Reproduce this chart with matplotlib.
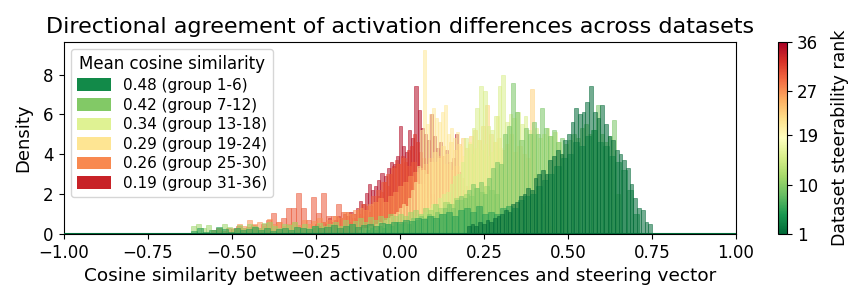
import numpy as np
import matplotlib
matplotlib.use("Agg")
import matplotlib.pyplot as plt
from matplotlib.colors import Normalize
from matplotlib.cm import ScalarMappable
from matplotlib.patches import Patch

# ---------------- data ----------------
# representative datasets: steerability rank, first bin edge, bin width, density per bin
d01_rank, d01_start, d01_width = 1, 0.20, 0.011
d01_heights = [0.4, 0.5, 0.4, 0.6, 0.5, 0.7, 0.6, 0.8, 0.9, 1.0,
               1.2, 1.1, 1.5, 1.6, 1.9, 2.0, 2.3, 2.2, 2.8, 3.0,
               3.2, 3.0, 3.7, 3.9, 4.2, 4.0, 4.7, 5.0, 5.6, 6.3,
               6.0, 6.1, 6.6, 7.45, 6.1, 5.8, 6.45, 5.5, 4.9, 4.7,
               4.2, 4.0, 3.7, 3.3, 2.5, 1.8, 1.3, 1.2, 0.6, 0.5]

d05_rank, d05_start, d05_width = 5, -0.62, 0.018
d05_heights = [0.15, 0.3, 0.1, 0.2, 0.35, 0.25, 0.1, 0.3, 0.2, 0.25, 0.35, 0.2, 0.3, 0.15, 0.25, 0.3, 0.2, 0.35,
               0.3, 0.25, 0.4, 0.3, 0.35, 0.45, 0.3, 0.4, 0.5, 0.35, 0.45, 0.5, 0.4, 0.55, 0.5, 0.6,
               0.6, 0.7, 0.65, 0.8, 0.75, 0.9, 0.8, 1.0, 1.1, 0.9, 1.2, 1.3, 1.1, 1.4,
               1.0, 1.1, 1.0, 1.3, 1.4, 1.3, 1.7, 1.9, 2.0, 2.4, 2.7, 3.0, 3.4, 3.8, 4.0, 4.6,
               4.4, 4.9, 5.2, 4.6, 4.4, 3.9, 3.6, 3.2, 2.2, 1.0]

d09_rank, d09_start, d09_width = 9, -0.10, 0.012
d09_heights = [0.2, 0.3, 0.2, 0.4, 0.3, 0.5, 0.4, 0.6, 0.5,
               0.6, 0.5, 0.8, 0.7, 0.9, 0.8, 1.0, 0.9,
               1.1, 1.0, 1.3, 1.5, 1.3, 1.7, 1.9, 1.8, 2.2,
               2.5, 2.3, 2.6, 2.0, 2.8, 3.3, 3.6, 3.5,
               5.0, 5.4, 7.6, 6.1, 4.7, 5.3, 5.0, 5.6,
               5.0, 6.3, 5.3, 4.9, 5.2, 4.6, 4.8, 4.5,
               4.7, 5.0, 4.8, 5.3, 5.5, 5.0, 5.2, 6.45, 5.0, 4.6, 4.9, 5.7, 2.0]

d11_rank, d11_start, d11_width = 11, -0.62, 0.015
d11_heights = [0.4, 0.5, 0.3, 0.45, 0.2, 0.3, 0.5, 0.35, 0.25, 0.45, 0.3, 0.5, 0.4, 0.3, 0.55, 0.6, 0.4, 0.3, 0.5, 0.45, 0.6,
               0.3, 0.5, 0.3, 0.4, 0.55, 0.4, 0.5, 0.6, 0.4, 0.7, 0.5, 0.65, 0.8, 0.6, 0.85, 0.7, 0.9, 0.8, 1.0, 0.9,
               1.0, 0.9, 1.1, 1.2, 1.0, 1.3, 1.2, 1.5, 1.3, 1.6, 1.5, 1.8, 1.7, 2.0, 1.9, 2.3, 2.1, 2.4, 2.2, 2.0]

d15_rank, d15_start, d15_width = 15, -0.05, 0.011
d15_heights = [0.2, 0.3, 0.3, 0.4, 0.5, 0.4, 0.6, 0.7, 0.8, 0.9,
               1.0, 1.1, 1.3, 1.5, 1.4, 1.8, 2.0, 2.1, 2.5, 2.9,
               3.0, 3.6, 4.8, 4.5, 5.3, 6.3, 7.45, 7.2, 5.4, 5.2,
               5.9, 7.45, 8.0, 5.6, 6.0, 5.8, 6.1, 5.5, 5.9, 5.2,
               5.0, 5.3, 4.8, 5.0, 5.3, 4.9, 5.1, 4.6, 4.0, 3.2]

d21_rank, d21_start, d21_width = 21, -0.12, 0.009
d21_heights = [0.2, 0.3, 0.3, 0.4, 0.3, 0.5, 0.6, 0.5, 0.7, 0.8,
               0.9, 1.0, 1.1, 1.3, 1.5, 1.4, 1.8, 2.2, 2.6, 3.4,
               5.2, 9.23, 5.5, 6.0, 6.3, 5.8, 5.6, 6.1, 6.45, 5.0,
               5.3, 4.8, 5.1, 4.4, 3.9, 4.2, 4.6, 4.0, 4.3, 4.7,
               4.2, 4.5, 3.9, 4.1, 4.6, 5.9, 4.3, 3.6, 3.0, 2.2]

d23_rank, d23_start, d23_width = 23, 0.05, 0.012
d23_heights = [2.5, 3.2, 3.0, 3.6, 4.1, 3.8, 4.4, 4.0, 4.6, 4.2,
               4.5, 4.8, 4.3, 4.9, 5.2, 4.7, 5.4, 6.45, 5.0, 4.6,
               4.8, 4.2, 4.5, 5.0, 4.1, 4.4, 4.0, 3.8, 7.3, 3.0,
               2.2, 1.5, 0.9, 0.4]

d27_rank, d27_start, d27_width = 27, -0.50, 0.015
d27_heights = [0.3, 0.5, 0.4, 0.7, 0.5, 0.6, 0.4, 0.75, 0.5, 0.6,
               0.4, 0.5, 0.6, 0.45, 0.7, 0.5, 0.65, 0.8, 0.6, 0.7,
               0.9, 0.8, 1.1, 1.0, 1.2, 1.3, 1.2, 1.5, 1.6, 1.8,
               1.6, 1.9, 2.1, 2.4, 2.6, 2.9, 3.1, 3.3, 3.5, 3.8,
               3.6, 3.9, 3.5, 3.2, 3.4, 2.8, 2.4, 2.0, 1.6, 1.2]

d30_rank, d30_start, d30_width = 30, -0.56, 0.0148
d30_heights = [0.2, 0.3, 0.15, 0.3, 0.25, 0.4, 0.3, 0.35, 0.45, 0.3, 0.5, 0.7,
               1.07, 0.6, 0.8, 1.3, 1.3, 2.07, 1.3, 0.7, 1.87, 1.07, 2.07, 0.9, 0.9,
               1.5, 1.1, 1.1, 1.0, 1.2, 1.5, 1.4, 1.9, 2.2, 2.6, 3.0, 3.3, 3.5,
               3.8, 3.4, 3.6, 3.0, 2.5, 1.8, 1.0]

d32_rank, d32_start, d32_width = 32, -0.15, 0.009
d32_heights = [0.6, 0.8, 0.7, 1.0, 0.9, 1.2, 1.1, 1.4, 1.6, 1.9,
               2.1, 2.6, 2.4, 3.0, 3.4, 3.7, 3.5, 3.9, 3.6, 4.2,
               4.4, 5.0, 4.6, 4.1, 3.8, 3.2, 2.7, 2.0, 1.4, 0.8]

d35_rank, d35_start, d35_width = 35, -0.26, 0.0092
d35_heights = [0.3, 0.5, 0.4, 0.6, 0.5, 0.8, 0.6, 0.7, 0.9, 0.8,
               1.0, 0.9, 1.1, 1.0, 1.3, 1.67, 1.5, 2.07,
               2.53, 2.2, 2.4, 2.7, 3.07, 2.9, 3.3, 3.6, 3.5, 3.9,
               5.4, 4.4, 4.1, 5.2, 4.8, 7.45, 6.2, 5.3, 5.0, 4.7, 6.0, 4.9,
               4.3, 4.6, 3.9, 4.2, 3.6, 3.8, 5.0, 3.1, 2.2, 1.3]

datasets = [
    (d01_rank, d01_start, d01_width, d01_heights),
    (d05_rank, d05_start, d05_width, d05_heights),
    (d09_rank, d09_start, d09_width, d09_heights),
    (d11_rank, d11_start, d11_width, d11_heights),
    (d15_rank, d15_start, d15_width, d15_heights),
    (d21_rank, d21_start, d21_width, d21_heights),
    (d23_rank, d23_start, d23_width, d23_heights),
    (d27_rank, d27_start, d27_width, d27_heights),
    (d30_rank, d30_start, d30_width, d30_heights),
    (d32_rank, d32_start, d32_width, d32_heights),
    (d35_rank, d35_start, d35_width, d35_heights),
]

group_means = [0.48, 0.42, 0.34, 0.29, 0.26, 0.19]
group_first = [1, 7, 13, 19, 25, 31]
group_last = [6, 12, 18, 24, 30, 36]
cbar_ticks = [1, 10, 19, 27, 36]
n_ranks = 36

# ---------------- plot ----------------
cmap = plt.get_cmap("RdYlGn_r")
norm = Normalize(vmin=1, vmax=n_ranks)

fig = plt.figure(figsize=(8.63, 3.03), dpi=100)
ax = fig.add_axes([0.0736, 0.2277, 0.7793, 0.6347])
cax = fig.add_axes([0.9015, 0.2277, 0.0108, 0.6347])

# least steerable first, most steerable drawn last (on top)
for rank, start, width, heights in sorted(datasets, key=lambda d: -d[0]):
    h = np.asarray(heights, dtype=float)
    edges = start + width * np.arange(len(h) + 1)
    centers = 0.5 * (edges[:-1] + edges[1:])
    c = cmap(norm(rank))
    ax.hist(centers, bins=edges, weights=h, color=c, alpha=0.55,
            edgecolor=c, linewidth=0.6)

ax.axhline(0, color=cmap(norm(1)), linewidth=1.5, zorder=3)
ax.set_xlim(-1, 1)
ax.set_ylim(0, 9.65)
ax.set_yticks([0, 2, 4, 6, 8])
ax.tick_params(labelsize=12)
ax.set_xlabel("Cosine similarity between activation differences and steering vector", fontsize=13.3)
ax.set_ylabel("Density", fontsize=13, labelpad=8)
ax.set_title("Directional agreement of activation differences across datasets", fontsize=16)

handles = []
for m, a, b in zip(group_means, group_first, group_last):
    handles.append(Patch(facecolor=cmap(norm((a + b) / 2)),
                         label=f"{m:.2f} (group {a}-{b})"))
ax.legend(handles=handles, title="Mean cosine similarity", loc="upper left",
          fontsize=11, title_fontsize=12, handlelength=2.2, handleheight=0.9,
          labelspacing=0.3)

sm = ScalarMappable(norm=norm, cmap=cmap)
cb = fig.colorbar(sm, cax=cax, ticks=cbar_ticks)
cb.ax.tick_params(labelsize=12)
cb.set_label("Dataset steerability rank", fontsize=12.5, labelpad=9)

fig.savefig("out.png", dpi=100)
